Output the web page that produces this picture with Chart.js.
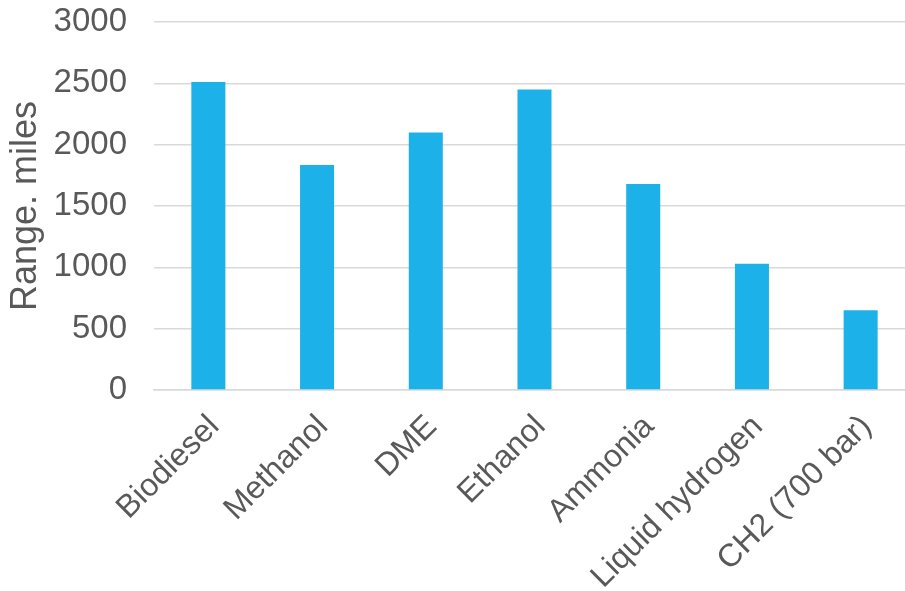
<!DOCTYPE html>
<html>
<head>
<meta charset="utf-8">
<script src="https://cdn.jsdelivr.net/npm/chart.js@4/dist/chart.umd.min.js"></script>
<style>
html,body{margin:0;padding:0;background:#fff;overflow:hidden;width:905px;height:591px;}
#wrap{width:915px;height:591px;}
</style>
</head>
<body>
<div id="wrap"><canvas id="c" width="915" height="591"></canvas></div>
<script>
const categories = ["Biodiesel", "Methanol", "DME", "Ethanol", "Ammonia", "Liquid hydrogen", "CH2 (700 bar)"];
const rangeMiles = [2510, 1835, 2100, 2450, 1680, 1030, 650];
const yTicks = [0, 500, 1000, 1500, 2000, 2500, 3000];
const yTitle = "Range. miles";

const textColor = "#595959";
const gridColor = "#d9d9d9";
const font = "Arial, 'Liberation Sans', sans-serif";

new Chart(document.getElementById("c"), {
  type: "bar",
  data: {
    labels: categories,
    datasets: [{
      data: rangeMiles,
      backgroundColor: "#1cb1e9",
      borderWidth: 0,
      barPercentage: 0.313,
      categoryPercentage: 1.0
    }]
  },
  options: {
    responsive: false,
    animation: false,
    layout: { autoPadding: false, padding: { top: 22, left: 0, right: 0, bottom: 0 } },
    plugins: { legend: { display: false }, tooltip: { enabled: false } },
    scales: {
      x: {
        grid: { display: false, drawTicks: false },
        border: { display: true, color: gridColor, width: 1.5 },
        ticks: {
          color: textColor,
          font: { family: font, size: 32 },
          maxRotation: 45, minRotation: 45,
          padding: 18,
          labelOffset: 6,
          autoSkip: false
        },
        afterFit: (s) => { s.height = 201; s.paddingLeft = 0; s.paddingRight = 0; s.paddingTop = 0; s.paddingBottom = 0; }
      },
      y: {
        min: 0, max: 3000,
        afterBuildTicks: (s) => { s.ticks = yTicks.map(v => ({ value: v })); },
        grid: { color: gridColor, lineWidth: 1.5, drawTicks: false },
        border: { display: false },
        ticks: {
          color: textColor,
          font: { family: font, size: 33 },
          padding: 27,
          callback: (v) => String(v)
        },
        title: {
          display: true,
          text: yTitle,
          color: textColor,
          font: { family: font, size: 36 },
          padding: { top: 4, bottom: 0 }
        },
        afterFit: (s) => { s.width = 154; s.paddingTop = 0; s.paddingBottom = 0; s.paddingLeft = 0; s.paddingRight = 0; }
      }
    }
  }
});
</script>
</body>
</html>
